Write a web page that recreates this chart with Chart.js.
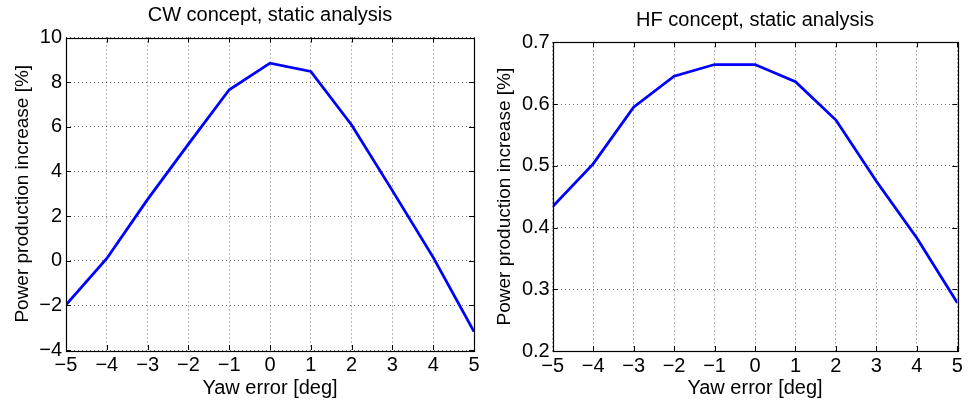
<!DOCTYPE html>
<html>
<head>
<meta charset="utf-8">
<script src="https://cdn.jsdelivr.net/npm/chart.js@4.4.0/dist/chart.umd.min.js"></script>
<style>
  html, body { margin: 0; padding: 0; background: #fff; }
  #wrap { position: relative; width: 971px; height: 403px; }
  .box { position: absolute; top: 0; height: 403px; }
  #b1 { left: 0; width: 490px; }
  #b2 { left: 490px; width: 481px; }
</style>
</head>
<body>
<div id="wrap">
  <div class="box" id="b1"><canvas id="c1"></canvas></div>
  <div class="box" id="b2"><canvas id="c2"></canvas></div>
</div>
<script>
// ---- data ----
const yawError = [-5, -4, -3, -2, -1, 0, 1, 2, 3, 4, 5];
const cwIncrease = [-1.98, 0.1, 2.75, 5.22, 7.66, 8.85, 8.48, 6.08, 3.14, 0.15, -3.18];
const hfIncrease = [0.434, 0.503, 0.595, 0.645, 0.664, 0.664, 0.636, 0.574, 0.475, 0.383, 0.278];
const cwTitle = 'CW concept, static analysis';
const hfTitle = 'HF concept, static analysis';
const xLabel = 'Yaw error [deg]';
const yLabel = 'Power production increase [%]';
const xTicks = [-5, -4, -3, -2, -1, 0, 1, 2, 3, 4, 5];
const cwYTicks = [-4, -2, 0, 2, 4, 6, 8, 10];
const hfYTicks = [0.2, 0.3, 0.4, 0.5, 0.6, 0.7];

const FONT = 'Liberation Sans, Arial, Helvetica, sans-serif';

const frame = {
  id: 'frame',
  afterDatasetsDraw(chart) {
    const {ctx, chartArea: a, scales} = chart;
    ctx.save();
    ctx.strokeStyle = '#000';
    ctx.lineWidth = 1;
    ctx.beginPath();
    const L = 5;
    scales.x.ticks.forEach(t => {
      const px = Math.round(scales.x.getPixelForValue(t.value)) + 0.5;
      ctx.moveTo(px, a.bottom); ctx.lineTo(px, a.bottom - L);
      ctx.moveTo(px, a.top); ctx.lineTo(px, a.top + L);
    });
    scales.y.ticks.forEach(t => {
      const py = Math.round(scales.y.getPixelForValue(t.value)) + 0.5;
      ctx.moveTo(a.left, py); ctx.lineTo(a.left + L, py);
      ctx.moveTo(a.right, py); ctx.lineTo(a.right - L, py);
    });
    ctx.stroke();
    ctx.lineWidth = 1.2;
    ctx.strokeRect(Math.round(a.left) + 0.5, Math.round(a.top) + 0.5,
                   Math.round(a.right - a.left), Math.round(a.bottom - a.top));
    ctx.restore();
  }
};

function makeChart(id, title, values, yTicks, cfg) {
  const minus = v => String(v).replace('-', '\u2212');
  return new Chart(document.getElementById(id), {
    type: 'line',
    data: {
      datasets: [{
        data: yawError.map((x, i) => ({x, y: values[i]})),
        borderColor: '#0000ff',
        borderWidth: 2.8,
        pointRadius: 0,
        tension: 0,
        fill: false
      }]
    },
    options: {
      responsive: true,
      maintainAspectRatio: false,
      animation: false,
      events: [],
      layout: { padding: { left: 0, right: cfg.padRight, top: 0, bottom: 0 } },
      plugins: {
        legend: { display: false },
        tooltip: { enabled: false },
        title: {
          display: true,
          fullSize: false,
          text: title,
          color: '#000',
          font: { family: FONT, size: 20, weight: 'normal', lineHeight: 1.2 },
          padding: { top: cfg.titleTop, bottom: cfg.titleBottom }
        }
      },
      scales: {
        x: {
          type: 'linear',
          min: xTicks[0],
          max: xTicks[xTicks.length - 1],
          afterBuildTicks: s => { s.ticks = xTicks.map(v => ({value: v})); },
          afterFit: s => { s.height = cfg.xHeight; },
          border: { display: false, dash: [1, 3] },
          grid: { color: 'rgba(0,0,0,0.55)', lineWidth: 1, drawTicks: false },
          ticks: {
            color: '#000', padding: 3, maxRotation: 0, autoSkip: false,
            font: { family: FONT, size: 20 },
            callback: v => minus(v)
          },
          title: {
            display: true, text: xLabel, color: '#000',
            font: { family: FONT, size: 20, lineHeight: 1.2 },
            padding: { top: 0, bottom: 3 }
          }
        },
        y: {
          type: 'linear',
          min: yTicks[0],
          max: yTicks[yTicks.length - 1],
          afterBuildTicks: s => { s.ticks = yTicks.map(v => ({value: v})); },
          afterFit: s => { s.width = cfg.yWidth; },
          border: { display: false, dash: [1, 3] },
          grid: { color: 'rgba(0,0,0,0.55)', lineWidth: 1, drawTicks: false },
          ticks: {
            color: '#000', padding: cfg.yTickPad, autoSkip: false,
            font: { family: FONT, size: 20 },
            callback: v => minus(cfg.fmt(v))
          },
          title: {
            display: true, text: yLabel, color: '#000',
            font: { family: FONT, size: 19, lineHeight: 1.2 },
            padding: { top: cfg.yTitlePad, bottom: 0 }
          }
        }
      }
    },
    plugins: [frame]
  });
}

makeChart('c1', cwTitle, cwIncrease, cwYTicks, {
  padRight: 16, titleTop: 3.5, titleBottom: 10, xHeight: 53, yWidth: 66,
  yTickPad: 4, yTitlePad: 11, fmt: v => String(v)
});
makeChart('c2', hfTitle, hfIncrease, hfYTicks, {
  padRight: 13.7, titleTop: 8, titleBottom: 10.3, xHeight: 52, yWidth: 62.7,
  yTickPad: 3, yTitlePad: 3, fmt: v => v.toFixed(1)
});
</script>
</body>
</html>
